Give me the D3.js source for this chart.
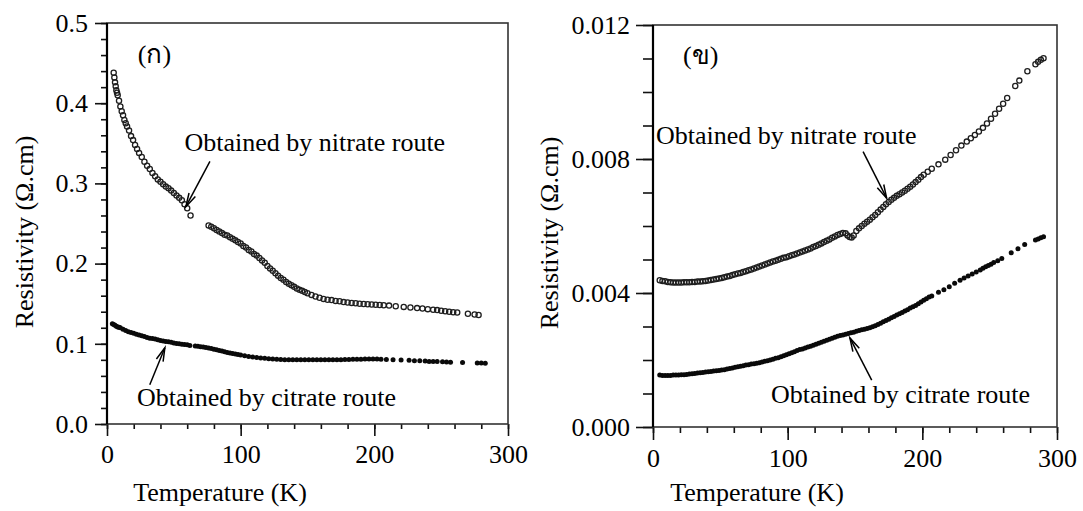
<!DOCTYPE html>
<html>
  <head>
    <script type="text/javascript" src="https://cdn.jsdelivr.net/npm/d3@7/dist/d3.min.js"></script>
    <style>
      body {
        margin: 0;
        background-color: #fff;
      }
      text {
        font-family: 'Liberation Serif', 'Times New Roman', serif;
        fill: #000;
      }
      .axis text {
        font-size: 26px;
      }
      .axis line {
        stroke: #111;
        stroke-width: 1.6;
      }
      .axis path {
        display: none;
      }
      .frame {
        fill: none;
        stroke: #333;
        stroke-width: 1.6;
      }
      .nitrate {
        fill: none;
        stroke: #1e1e1e;
        stroke-width: 1.3;
      }
      .citrate {
        fill: #0a0a0a;
      }
      .note {
        font-size: 26px;
      }
      .arrow {
        stroke: #000;
        stroke-width: 1.5;
        fill: none;
      }
    </style>
  </head>
  <body>
    <svg id="chart" width="1083" height="511"></svg>

    <script type="text/javascript">
      // ---- data ----
      // panel (a): resistivity 0 - 0.5 ohm.cm
      var nitrateA_T = [5, 5.5, 6, 6.5, 7, 7.5, 8, 9, 10, 11, 12, 13, 14, 15, 16.5, 18, 19.5, 21, 22.5, 24, 26, 28, 30, 32, 34, 36, 38, 40, 42, 44, 46, 48, 50, 52, 54, 56, 58, 60, 62.5,
        76, 78, 80, 82, 84, 86, 88, 90, 92, 94, 96, 98, 100, 102, 104, 106, 108, 110, 112, 114, 116, 118, 120, 122, 124, 126, 128, 130, 132, 134, 136, 138, 140, 142, 144, 146, 148, 150,
        153, 156, 159, 162, 165, 168, 171, 174, 177, 180, 183, 186, 189, 192, 195, 198, 201, 204, 207, 211, 216, 222, 227, 232, 236, 240, 244, 247, 250, 253, 256, 259, 262, 270, 275, 278];
      var nitrateA_rho = [0.438, 0.432, 0.426, 0.421, 0.416, 0.413, 0.41, 0.403, 0.396, 0.39, 0.385, 0.379, 0.375, 0.371, 0.366, 0.359, 0.354, 0.348, 0.343, 0.338, 0.333, 0.327, 0.322, 0.318, 0.313, 0.309, 0.305, 0.302, 0.299, 0.296, 0.294, 0.291, 0.288, 0.285, 0.282, 0.279, 0.274, 0.269, 0.26,
        0.2475, 0.246, 0.244, 0.242, 0.24, 0.238, 0.236, 0.235, 0.233, 0.231, 0.229, 0.227, 0.225, 0.222, 0.22, 0.217, 0.215, 0.212, 0.21, 0.207, 0.204, 0.201, 0.197, 0.194, 0.191, 0.188, 0.185, 0.182, 0.18, 0.177, 0.175, 0.173, 0.171, 0.169, 0.1675, 0.166, 0.1645, 0.163,
        0.161, 0.159, 0.1575, 0.156, 0.155, 0.1545, 0.1535, 0.153, 0.152, 0.1515, 0.151, 0.1505, 0.15, 0.1497, 0.1494, 0.149, 0.1487, 0.1483, 0.148, 0.1476, 0.1468, 0.146, 0.1452, 0.1445, 0.144, 0.1432, 0.1425, 0.142, 0.1412, 0.1405, 0.14, 0.1393, 0.139, 0.1375, 0.1365, 0.136];

      var citrateA_T = [4, 5, 6, 7, 8, 9, 10, 12, 14, 16, 18, 20, 22, 24, 26, 28, 30, 32, 34, 36, 38, 40, 42, 44, 46, 48, 50, 52, 54, 56, 58, 60, 62,
        66, 68, 70, 72, 74, 76, 78, 80, 82, 84, 86, 88, 90, 92, 94, 96, 98, 100, 103, 106, 109, 112, 115, 118, 121, 124, 127, 130, 133, 136, 139, 142, 145, 148, 151, 154, 157, 160, 163, 166, 169, 172,
        175, 178, 181, 184, 187, 190, 193, 196, 199, 202, 205, 209, 214, 220, 226, 230, 234, 238, 241, 244, 247, 251, 254, 257, 266, 277, 280, 283];
      var citrateA_rho = [0.125, 0.124, 0.123, 0.122, 0.121, 0.1205, 0.12, 0.118, 0.1165, 0.115, 0.114, 0.113, 0.112, 0.111, 0.11, 0.109, 0.108, 0.107, 0.1065, 0.106, 0.105, 0.104, 0.1035, 0.103, 0.1025, 0.102, 0.101, 0.1005, 0.1, 0.0995, 0.099, 0.0988, 0.098,
        0.0972, 0.0968, 0.0964, 0.096, 0.0955, 0.0948, 0.094, 0.0932, 0.0925, 0.0915, 0.091, 0.09, 0.0892, 0.0885, 0.088, 0.0873, 0.0866, 0.086, 0.085, 0.0842, 0.0835, 0.0828, 0.0823, 0.082, 0.0815, 0.081, 0.0807, 0.0804, 0.0802, 0.08, 0.08, 0.08, 0.08, 0.08, 0.08, 0.08, 0.08, 0.08, 0.08, 0.08, 0.08, 0.08,
        0.0802, 0.0804, 0.0805, 0.0806, 0.0807, 0.0808, 0.081, 0.081, 0.081, 0.081, 0.0808, 0.0805, 0.08, 0.0798, 0.0795, 0.079, 0.0788, 0.0785, 0.078, 0.078, 0.0778, 0.0775, 0.0772, 0.077, 0.0768, 0.0762, 0.076, 0.0758];

      // panel (b): resistivity 0 - 0.012 ohm.cm
      var nitrateB_T = [5, 7, 9, 11, 13, 15, 17, 19, 21, 23, 25, 27, 29, 31, 33, 35, 37, 39, 41, 43, 45, 47, 49, 51, 53, 55, 57, 59, 61, 63, 65, 67, 69, 71, 73, 75, 77, 79, 81, 83, 85, 87, 89, 91, 93, 95, 97, 99,
        101, 103, 105, 107, 109, 111, 113, 115, 117, 119, 121, 123, 125, 127, 129, 131, 133, 135, 137, 139, 141, 143, 144.5, 146, 147.5, 149, 151, 153, 155, 157, 159, 161, 163, 165, 167, 169, 171, 173, 175,
        177, 179, 181, 183, 185, 187, 189, 191, 193, 195, 197, 199, 201, 204, 207, 212, 217, 221, 225, 229, 233, 236, 239, 242, 245, 248, 251, 254, 257, 260, 263, 269, 272, 278, 284, 286, 288, 290];
      var nitrateB_rho = [0.00438, 0.00436, 0.00435, 0.00433, 0.00432, 0.00431, 0.00431, 0.00431, 0.00431, 0.00432, 0.00432, 0.00432, 0.00433, 0.00433, 0.00434, 0.00434, 0.00435, 0.00436, 0.00437, 0.00439, 0.0044, 0.00442, 0.00443, 0.00445, 0.00447, 0.00449, 0.00451, 0.00454, 0.00456, 0.00458, 0.0046, 0.00463, 0.00465, 0.00468, 0.0047, 0.00473, 0.00476, 0.00479, 0.00482, 0.00485, 0.00488, 0.00491, 0.00494, 0.00496, 0.00499, 0.00502, 0.00505, 0.00507,
        0.0051, 0.00513, 0.00515, 0.00518, 0.00521, 0.00524, 0.00527, 0.0053, 0.00533, 0.00537, 0.0054, 0.00544, 0.00548, 0.00552, 0.00556, 0.0056, 0.00565, 0.00569, 0.00573, 0.00576, 0.00579, 0.00578, 0.00572, 0.00567, 0.00566, 0.00572, 0.00585, 0.00593, 0.006, 0.00607, 0.00613, 0.00619, 0.00626, 0.00633, 0.00641, 0.00649, 0.00657, 0.00665, 0.00672,
        0.00678, 0.00684, 0.0069, 0.00695, 0.007, 0.00705, 0.00711, 0.00717, 0.00724, 0.00731, 0.00738, 0.00746, 0.00753, 0.00762, 0.00771, 0.00784, 0.00798, 0.00812, 0.00826, 0.0084, 0.00852, 0.00862, 0.00872, 0.00882, 0.00893, 0.00906, 0.0092, 0.00935, 0.0095, 0.00965, 0.00982, 0.01018, 0.01034, 0.01062, 0.01083, 0.0109, 0.01096, 0.01101];

      var citrateB_T = [5, 7, 9, 11, 13, 15, 17, 19, 21, 23, 25, 27, 29, 31, 33, 35, 37, 39, 41, 43, 45, 47, 49, 51, 53, 55, 57, 59, 61, 63, 65, 67, 69, 71, 73, 75, 77, 79, 81, 83, 85, 87, 89, 91, 93, 95, 97, 99,
        101, 103, 105, 107, 109, 111, 113, 115, 117, 119, 121, 123, 125, 127, 129, 131, 133, 135, 137, 139, 141, 143, 145, 147, 149, 151, 153, 155, 157, 159, 161, 163, 165, 167, 169, 171, 173, 175,
        177, 179, 181, 183, 185, 187, 189, 191, 193, 195, 197, 199, 201, 203, 205, 207, 212, 216, 220, 224, 228, 231, 234, 237, 240, 243, 245, 247, 249, 251, 253, 256, 259, 266, 271, 276, 284, 286, 288, 290];
      var citrateB_rho = [0.00155, 0.00154, 0.00154, 0.00154, 0.00154, 0.00155, 0.00155, 0.00155, 0.00156, 0.00156, 0.00157, 0.00158, 0.00159, 0.0016, 0.00161, 0.00162, 0.00163, 0.00164, 0.00165, 0.00166, 0.00167, 0.00168, 0.00169, 0.0017, 0.00171, 0.00173, 0.00175, 0.00176, 0.00178, 0.0018, 0.00181, 0.00183, 0.00185, 0.00186, 0.00188, 0.00189, 0.0019, 0.00192, 0.00194, 0.00196, 0.00198, 0.002, 0.00202, 0.00205, 0.00207, 0.0021, 0.00213, 0.00216,
        0.00219, 0.00222, 0.00225, 0.00228, 0.00231, 0.00233, 0.00236, 0.00239, 0.00241, 0.00244, 0.00247, 0.0025, 0.00253, 0.00256, 0.00259, 0.00262, 0.00265, 0.00268, 0.00271, 0.00273, 0.00275, 0.00277, 0.00279, 0.00281, 0.00283, 0.00286, 0.00288, 0.0029, 0.00292, 0.00294, 0.00296, 0.00299, 0.00302, 0.00306, 0.0031, 0.00314, 0.00318, 0.00322,
        0.00326, 0.0033, 0.00334, 0.00338, 0.00342, 0.00346, 0.0035, 0.00355, 0.00359, 0.00363, 0.00368, 0.00373, 0.00378, 0.00383, 0.00388, 0.00391, 0.00402, 0.0041, 0.00419, 0.00429, 0.00438, 0.00445, 0.00451, 0.00457, 0.00463, 0.00469, 0.00474, 0.00478, 0.00482, 0.00486, 0.00491, 0.00496, 0.00503, 0.0052, 0.00532, 0.00545, 0.00558, 0.00561, 0.00565, 0.00568];

      // tick values
      var tempTicks = [0, 100, 200, 300];
      var rhoTicksA = [0, 0.1, 0.2, 0.3, 0.4, 0.5];
      var rhoTicksB = [0, 0.004, 0.008, 0.012];

      var svg = d3.select('#chart');

      function zip(ts, rs) {
        return ts.map(function (t, i) {
          return [t, rs[i]];
        });
      }

      // draws one panel: frame, axes, both series, notes
      function drawPanel(p) {
        var x = d3.scaleLinear().domain([0, 300]).range(p.xRange);
        var y = d3.scaleLinear().domain(p.yDomain).range(p.yRange);

        // minor ticks first
        svg.append('g')
          .attr('class', 'axis')
          .attr('transform', 'translate(0,' + p.yRange[0] + ')')
          .call(d3.axisBottom(x).tickValues(d3.range(0, 301, 20)).tickSize(p.xMinor).tickFormat(''));
        svg.append('g')
          .attr('class', 'axis')
          .attr('transform', 'translate(' + p.xRange[0] + ',0)')
          .call(d3.axisLeft(y).tickValues(p.yMinorTicks).tickSize(p.yMinor).tickFormat(''));

        svg.append('g')
          .attr('class', 'axis')
          .attr('transform', 'translate(0,' + p.yRange[0] + ')')
          .call(d3.axisBottom(x).tickValues(tempTicks).tickSize(p.xMajor).tickPadding(9).tickFormat(d3.format('d')));
        svg.append('g')
          .attr('class', 'axis')
          .attr('transform', 'translate(' + p.xRange[0] + ',0)')
          .call(d3.axisLeft(y).tickValues(p.yTicks).tickSize(p.yMajor).tickPadding(p.yPad).tickFormat(p.yFormat));

        // box
        svg.append('rect')
          .attr('class', 'frame')
          .attr('x', p.xRange[0])
          .attr('y', p.yRange[1])
          .attr('width', p.xRange[1] - p.xRange[0])
          .attr('height', p.yRange[0] - p.yRange[1]);
        svg.append('line')
          .attr('x1', p.xRange[0]).attr('x2', p.xRange[0])
          .attr('y1', p.yRange[1]).attr('y2', p.yRange[0])
          .style('stroke', '#000').style('stroke-width', 2.2);

        // series
        svg.append('g').selectAll('circle')
          .data(p.citrate).enter()
          .append('circle')
          .attr('class', 'citrate')
          .attr('cx', function (d) { return x(d[0]); })
          .attr('cy', function (d) { return y(d[1]); })
          .attr('r', 2.5);
        svg.append('g').selectAll('circle')
          .data(p.nitrate).enter()
          .append('circle')
          .attr('class', 'nitrate')
          .attr('cx', function (d) { return x(d[0]); })
          .attr('cy', function (d) { return y(d[1]); })
          .attr('r', 2.6);

        // panel tag and notes
        svg.append('text')
          .attr('class', 'note')
          .attr('x', x(p.tag[0]))
          .attr('y', y(p.tag[1]))
          .text(p.tag[2]);
        p.notes.forEach(function (n) {
          svg.append('text')
            .attr('class', 'note')
            .attr('x', x(n.at[0]))
            .attr('y', y(n.at[1]))
            .attr('text-anchor', n.anchor || 'start')
            .text(n.text);
          drawArrow(x(n.from[0]), y(n.from[1]), x(n.to[0]), y(n.to[1]));
        });

        // axis titles
        svg.append('text')
          .attr('class', 'note')
          .attr('x', p.xTitle[0])
          .attr('y', p.xTitle[1])
          .attr('text-anchor', 'middle')
          .text('Temperature (K)');
        svg.append('text')
          .attr('class', 'note')
          .attr('text-anchor', 'middle')
          .attr('transform', 'translate(' + p.yTitle[0] + ',' + p.yTitle[1] + ') rotate(-90)')
          .text('Resistivity (\u03A9.cm)');
      }

      function drawArrow(x1, y1, x2, y2) {
        var a = Math.atan2(y2 - y1, x2 - x1);
        var len = 14, spread = 0.26;
        svg.append('line')
          .attr('class', 'arrow')
          .attr('x1', x1).attr('y1', y1)
          .attr('x2', x2).attr('y2', y2);
        svg.append('path')
          .attr('class', 'arrow')
          .attr('d', d3.line()([
            [x2 - len * Math.cos(a - spread), y2 - len * Math.sin(a - spread)],
            [x2, y2],
            [x2 - len * Math.cos(a + spread), y2 - len * Math.sin(a + spread)]
          ]));
      }

      drawPanel({
        xRange: [107, 508],
        yRange: [424, 23],
        yDomain: [0, 0.5],
        yTicks: rhoTicksA,
        yMinorTicks: d3.range(0, 0.501, 0.02),
        yFormat: d3.format('.1f'),
        yMajor: 12, yMinor: 6, yPad: 7,
        xMajor: 12, xMinor: 5,
        nitrate: zip(nitrateA_T, nitrateA_rho),
        citrate: zip(citrateA_T, citrateA_rho),
        tag: [23, 0.45, '(\u0E01)'],
        notes: [
          { text: 'Obtained by nitrate route', at: [58, 0.34], from: [77, 0.3275], to: [59, 0.271] },
          { text: 'Obtained by citrate route', at: [22.4, 0.0225], from: [32, 0.049], to: [43.3, 0.095] }
        ],
        xTitle: [220, 501],
        yTitle: [33, 232]
      });

      drawPanel({
        xRange: [653, 1057],
        yRange: [427, 25],
        yDomain: [0, 0.012],
        yTicks: rhoTicksB,
        yMinorTicks: d3.range(0, 0.01201, 0.001),
        yFormat: d3.format('.3f'),
        yMajor: 17, yMinor: 10, yPad: 6,
        xMajor: 13, xMinor: 6,
        nitrate: zip(nitrateB_T, nitrateB_rho),
        citrate: zip(citrateB_T, citrateB_rho),
        tag: [22.3, 0.01084, '(\u0E02)'],
        notes: [
          { text: 'Obtained by nitrate route', at: [2.2, 0.00846], from: [156, 0.00822], to: [173.5, 0.00683] },
          { text: 'Obtained by citrate route', at: [280, 0.00072], anchor: 'end', from: [162.4, 0.0014], to: [146.2, 0.00266] }
        ],
        xTitle: [757, 501],
        yTitle: [558, 233]
      });
    </script>
  </body>
</html>
